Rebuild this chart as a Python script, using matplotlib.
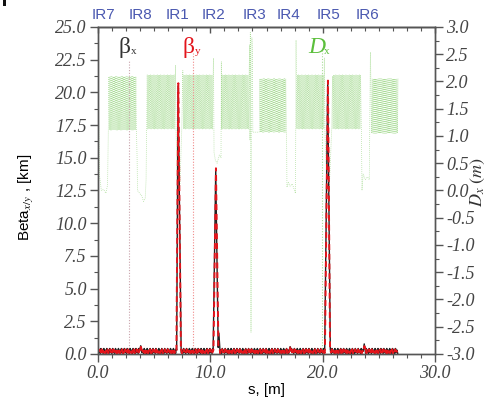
import matplotlib
matplotlib.use("Agg")
import matplotlib.pyplot as plt
import matplotlib.transforms as mtrans
from matplotlib.patches import Rectangle
import numpy as np

# ---- data ----
# arcs (green hatched bands of Dx), s in the plot's units
arc_start = [0.92, 4.33, 7.60, 11.00, 14.36, 17.70, 20.92, 24.36]
arc_end = [3.45, 6.85, 10.26, 13.47, 16.74, 20.12, 23.41, 26.73]
arc_dx_hi = [2.09, 2.12, 2.12, 2.12, 2.05, 2.12, 2.12, 2.05]
arc_dx_lo = [1.11, 1.13, 1.13, 1.13, 1.07, 1.13, 1.13, 1.05]
dx_cell = [0.0, 1.0]          # low / high end of a cell (fraction of band)
cell_len = 0.05

# Dx in each insertion, before the arc with the same index
ir_dx_s = [
    [0.00, 0.08, 0.12, 0.30, 0.50, 0.70, 0.85],
    [3.48, 3.52, 3.70, 3.90, 4.05, 4.20, 4.28],
    [6.90, 6.95, 7.05, 7.15, 7.30, 7.45, 7.55],
    [10.28, 10.33, 10.45, 10.60, 10.80, 10.95, 10.98],
    [13.50, 13.52, 13.56, 13.62, 13.70, 13.74, 13.78],
    [16.78, 16.82, 16.95, 17.10, 17.30, 17.50, 17.58, 17.63, 17.68],
    [20.15, 20.20, 20.35, 20.45, 20.60, 20.80, 20.88],
    [23.45, 23.50, 23.60, 23.80, 24.00, 24.15, 24.25, 24.32],
]
ir_dx_v = [
    [2.05, 1.05, 0.30, 0.00, 0.02, -0.05, 0.10],
    [0.60, 0.00, -0.05, -0.10, -0.20, -0.15, 0.20],
    [2.30, 1.10, 0.20, 0.00, 0.10, 1.10, 2.20],
    [2.43, 0.70, 0.55, 0.50, 0.65, 0.60, 2.36],
    [2.67, 0.93, 2.90, -2.60, 2.80, 2.60, 1.07],
    [1.10, 0.06, 0.15, 0.08, 0.12, 0.00, -0.05, 2.76, 1.20],
    [2.43, 1.10, 0.10, 0.00, 0.10, 1.10, 2.10],
    [1.10, 0.00, 0.30, 0.20, 0.25, 0.20, 2.54, 1.50],
]

# beta functions [km]: arc level cell, peaks and bumps at the IRs
beta_cell_x = [0.42, 0.10, 0.30, 0.05]
beta_cell_y = [0.12, 0.36, 0.05, 0.25]
beta_cell_len = 0.13
beta_end = 26.70
peak_x_s = [[3.70, 3.80, 3.90], [7.00, 7.13, 7.40], [10.25, 10.48, 10.70, 10.76, 10.85],
            [17.00, 17.10, 17.20], [20.18, 20.45, 20.68], [23.60, 23.70, 23.80]]
peak_x_v = [[0.2, 0.63, 0.2], [0.3, 20.5, 0.3], [0.3, 14.0, 0.5, 1.6, 0.3],
            [0.2, 0.56, 0.2], [0.3, 20.7, 0.3], [0.2, 0.77, 0.2]]
peak_y_s = [[3.72, 3.82, 3.92], [6.98, 7.15, 7.38], [10.28, 10.50, 10.72, 10.85],
            [17.02, 17.12, 17.22], [20.20, 20.47, 20.66], [23.62, 23.72, 23.82]]
peak_y_v = [[0.2, 0.55, 0.2], [0.3, 20.7, 0.3], [0.3, 14.2, 0.4, 0.3],
            [0.2, 0.50, 0.2], [0.3, 20.9, 0.3], [0.2, 0.60, 0.2]]

ir_names = ["IR7", "IR8", "IR1", "IR2", "IR3", "IR4", "IR5", "IR6"]
ir_pos = [0.45, 3.75, 7.10, 10.25, 13.90, 17.00, 20.50, 23.95]

# dotted leader lines under the labels: s, top [km], colour
lead_s = [2.80, 8.45, 19.95]
lead_top = [22.4, 23.0, 23.4]
lead_col = ["#c9a3ab", "#f08a8a", "#a8dc95"]


def build_dx():
    s, v = [], []
    for i in range(len(arc_start)):
        s += ir_dx_s[i]
        v += ir_dx_v[i]
        n = int((arc_end[i] - arc_start[i]) / cell_len)
        for k in range(n + 1):
            f = dx_cell[k % 2]
            s.append(arc_start[i] + k * cell_len)
            v.append(arc_dx_lo[i] + f * (arc_dx_hi[i] - arc_dx_lo[i]))
    return s, v


def build_beta(cell, ps, pv):
    s, v = [], []
    x = 0.0
    k = 0
    j = 0
    while x < beta_end:
        if j < len(ps) and x >= ps[j][0]:
            s += ps[j]
            v += pv[j]
            x = ps[j][-1] + 0.02
            j += 1
            continue
        s.append(x)
        v.append(cell[k % len(cell)])
        k += 1
        x += beta_cell_len / 2
    return s, v


dx_s, dx_v = build_dx()
bx_s, bx_v = build_beta(beta_cell_x, peak_x_s, peak_x_v)
by_s, by_v = build_beta(beta_cell_y, peak_y_s, peak_y_v)

plt.rcParams["mathtext.fontset"] = "stix"
tick_font = dict(family="Liberation Serif", style="italic", size=13, color="#444444")

fig = plt.figure(figsize=(4.98, 4.04), dpi=100)
ax = fig.add_axes([0.1968, 0.1238, 0.6767, 0.8094])
ax2 = ax.twinx()
ax.set_zorder(2)
ax.patch.set_visible(False)

ax2.plot(dx_s, dx_v, color="#a9dc96", lw=0.55, ls=(0, (1, 1.6)))
ax2.set_ylim(-3, 3)

for s0, top, c in zip(lead_s, lead_top, lead_col):
    ax.plot([s0, s0], [0, top], color=c, lw=0.8, ls=(0, (1, 1.5)))

ax.plot(bx_s, bx_v, color="#222222", lw=1.0)
ax.plot(by_s, by_v, color="#e3141b", lw=1.4, ls=(0, (3, 2)))

ax.set_xlim(0, 30)
ax.set_ylim(0, 25)
ax.set_xticks([0, 10, 20, 30])
ax.set_xticklabels(["0.0", "10.0", "20.0", "30.0"], **tick_font)
ax.set_xticks(np.arange(0, 30.1, 1.25), minor=True)
yt = np.arange(0, 25.1, 2.5)
ax.set_yticks(yt)
ax.set_yticklabels(["%.1f" % t for t in yt], **tick_font)
ax.set_yticks(np.arange(0, 25.1, 1.25), minor=True)
rt = np.arange(-3, 3.01, 0.5)
ax2.set_yticks(rt)
ax2.set_yticklabels(["%.1f" % t for t in rt], **tick_font)
ax2.set_yticks(np.arange(-3, 3.01, 0.25), minor=True)

top = ax.secondary_xaxis("top")
top.set_xticks([0, 10, 20, 30])
top.set_xticks(np.arange(0, 30.1, 1.25), minor=True)
top.tick_params(which="both", direction="in", labeltop=False)

for a in (ax, ax2, top):
    a.tick_params(which="major", length=6, width=1.0, color="#555555", pad=2)
    a.tick_params(which="minor", length=3, width=0.8, color="#555555")
    for sp in a.spines.values():
        sp.set_color("#555555")
        sp.set_linewidth(1.0)
top.tick_params(which="major", length=4)

trans = mtrans.blended_transform_factory(ax.transData, ax.transAxes)
for name, p in zip(ir_names, ir_pos):
    ax.text(p, 1.037, name, transform=trans, ha="center", va="center",
            fontsize=11, color="#4a58b0", family="Liberation Sans")

greek = dict(family="Liberation Serif", fontsize=17, va="center", ha="center")
sub = dict(family="Liberation Serif", fontsize=8, va="center", ha="left")
ax.text(2.40, 0.937, "β", transform=trans, color="#333333", **greek)
ax.text(2.95, 0.925, "x", transform=trans, color="#333333", **sub)
ax.text(8.05, 0.937, "β", transform=trans, color="#e3141b", **greek)
ax.text(8.60, 0.925, "y", transform=trans, color="#e3141b", **sub)
ax.text(19.45, 0.937, "D", transform=trans, color="#5cbf3c", style="italic", **greek)
ax.text(20.10, 0.925, "x", transform=trans, color="#5cbf3c", **sub)

fig.text(266 / 498, 1 - 390 / 404, "s, [m]", ha="center", va="center",
         fontsize=11, family="Liberation Sans")
fig.text(27 / 498, 1 - 197 / 404, r"Beta$_{x/y}$ , [km]", ha="center", va="center",
         fontsize=11, family="Liberation Sans", rotation=90)
fig.text(478 / 498, 1 - 182 / 404, r"$D_x\ (m)$", ha="center", va="center",
         fontsize=13, color="#333333", rotation=90)

# small dark mark in the top left corner of the picture
fig.add_artist(Rectangle((3 / 498, 1 - 6 / 404), 3 / 498, 6 / 404,
                         transform=fig.transFigure, color="#111111", lw=0))

fig.savefig("out.png", dpi=100)
